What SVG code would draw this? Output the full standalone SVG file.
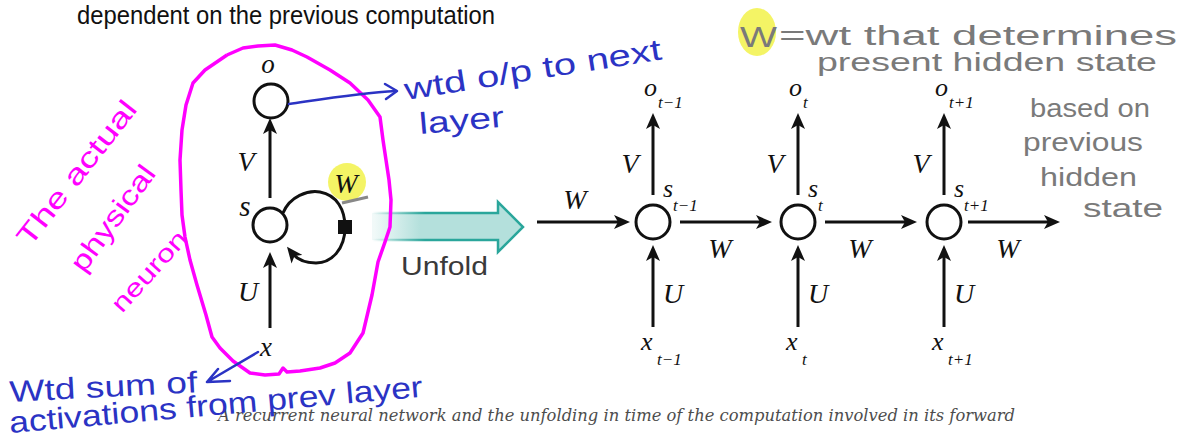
<svg xmlns="http://www.w3.org/2000/svg" width="1183" height="440" viewBox="0 0 1183 440">
<defs>
<style>
.node{fill:#fff;stroke:#111;stroke-width:3}
.edge{stroke:#111;stroke-width:3;fill:none}
.m{font-family:"Liberation Serif",serif;font-style:italic;fill:#111}
.big{font-size:28px}
.low{font-size:26px}
.sub{font-size:17px}
.hwm{font-family:"Liberation Sans",sans-serif;fill:#ff00ff}
.hwb{font-family:"Liberation Sans",sans-serif;fill:#2b33c4}
.hwg{font-family:"Liberation Sans",sans-serif;fill:#7a7a7a}
.blue{stroke:#2b33c4;stroke-width:2.5;fill:none;stroke-linecap:round;stroke-linejoin:round}
</style>
<marker id="ah" markerUnits="userSpaceOnUse" markerWidth="18" markerHeight="14" refX="8" refY="7" orient="auto">
<path d="M0,0 L16,7 L0,14 L4,7 Z" fill="#111"/>
</marker>
<linearGradient id="tealFill" gradientUnits="userSpaceOnUse" x1="372" y1="0" x2="420" y2="0">
<stop offset="0" stop-color="#b4e0dc" stop-opacity="0.15"/>
<stop offset="1" stop-color="#b4e0dc" stop-opacity="1"/>
</linearGradient>
<linearGradient id="tealStroke" gradientUnits="userSpaceOnUse" x1="372" y1="0" x2="425" y2="0">
<stop offset="0" stop-color="#2aa69b" stop-opacity="0"/>
<stop offset="1" stop-color="#2aa69b" stop-opacity="1"/>
</linearGradient>
</defs>
<rect width="1183" height="440" fill="#fff"/>

<text x="77" y="24" font-family="Liberation Sans, sans-serif" font-size="25" fill="#111" textLength="418" lengthAdjust="spacingAndGlyphs">dependent on the previous computation</text>

<!-- highlights -->
<ellipse cx="757" cy="32" rx="19" ry="24" fill="#f2f24a" opacity="0.85"/>
<circle cx="347" cy="182" r="19" fill="#f2f24a" opacity="0.85"/>

<!-- connectors -->
<g id="connectors">
<line class="edge" x1="270" y1="198" x2="270" y2="126" marker-end="url(#ah)"/>
<line class="edge" x1="270" y1="328" x2="270" y2="260" marker-end="url(#ah)"/>
<path class="edge" d="M283,213 C290,196 308,190 320,192 C337,195 345,210 345,227 C345,250 331,263 316,263 C304,263 296,258 292,253" marker-end="url(#ah)"/>
<line class="edge" x1="537" y1="222" x2="622" y2="222" marker-end="url(#ah)"/>
<line class="edge" x1="680" y1="222" x2="764" y2="222" marker-end="url(#ah)"/>
<line class="edge" x1="825" y1="222" x2="909" y2="222" marker-end="url(#ah)"/>
<line class="edge" x1="968" y1="222" x2="1052" y2="222" marker-end="url(#ah)"/>
<line class="edge" x1="653" y1="195" x2="653" y2="121" marker-end="url(#ah)"/>
<line class="edge" x1="798" y1="195" x2="798" y2="121" marker-end="url(#ah)"/>
<line class="edge" x1="944" y1="195" x2="944" y2="121" marker-end="url(#ah)"/>
<line class="edge" x1="653" y1="327" x2="653" y2="253" marker-end="url(#ah)"/>
<line class="edge" x1="798" y1="327" x2="798" y2="253" marker-end="url(#ah)"/>
<line class="edge" x1="944" y1="327" x2="944" y2="253" marker-end="url(#ah)"/>
</g>

<!-- folded neuron -->
<g id="node-o">
<circle class="node" cx="271" cy="101" r="17"/>
<text class="m" font-size="27" x="268" y="73" text-anchor="middle">o</text>
</g>
<g id="node-s">
<circle class="node" cx="270" cy="225" r="17"/>
<text class="m" font-size="29" x="245" y="216" text-anchor="middle">s</text>
<rect x="338" y="220" width="14" height="14" fill="#111"/>
</g>
<g id="node-x">
<text class="m" font-size="27" x="266" y="356" text-anchor="middle">x</text>
</g>
<g id="labels-folded">
<text class="m big" x="246" y="171" text-anchor="middle">V</text>
<text class="m big" x="248" y="301" text-anchor="middle">U</text>
<text class="m big" x="346" y="193" text-anchor="middle" fill="#5a5a2a">W</text>
<line x1="342" y1="203" x2="368" y2="197" stroke="#888" stroke-width="3"/>
</g>

<!-- Unfold arrow -->
<g id="unfold">
<polygon points="372,213 498,213 498,202 523,227 498,252 498,240 372,240" fill="url(#tealFill)" stroke="url(#tealStroke)" stroke-width="2.5" stroke-linejoin="miter"/>
<text x="401" y="275" font-family="Liberation Sans, sans-serif" font-size="26" fill="#3a3a3a" textLength="87" lengthAdjust="spacingAndGlyphs">Unfold</text>
</g>

<!-- unfolded nodes -->
<g id="node-s-t-1">
<circle class="node" cx="653" cy="222" r="17"/>
<text class="m low" x="663" y="197">s</text>
<text class="m sub" x="673" y="211">t−1</text>
</g>
<g id="node-s-t">
<circle class="node" cx="798" cy="222" r="17"/>
<text class="m low" x="808" y="197">s</text>
<text class="m sub" x="818" y="211">t</text>
</g>
<g id="node-s-t1">
<circle class="node" cx="944" cy="222" r="17"/>
<text class="m low" x="954" y="197">s</text>
<text class="m sub" x="964" y="211">t+1</text>
</g>
<g id="node-o-t-1">
<text class="m low" x="644" y="96">o</text>
<text class="m sub" x="658" y="108">t−1</text>
</g>
<g id="node-o-t">
<text class="m low" x="789" y="96">o</text>
<text class="m sub" x="803" y="108">t</text>
</g>
<g id="node-o-t1">
<text class="m low" x="935" y="96">o</text>
<text class="m sub" x="949" y="108">t+1</text>
</g>
<g id="node-x-t-1">
<text class="m low" x="641" y="350">x</text>
<text class="m sub" x="657" y="365">t−1</text>
</g>
<g id="node-x-t">
<text class="m low" x="786" y="350">x</text>
<text class="m sub" x="802" y="365">t</text>
</g>
<g id="node-x-t1">
<text class="m low" x="932" y="350">x</text>
<text class="m sub" x="948" y="365">t+1</text>
</g>
<g id="labels-unfolded">
<text class="m big" x="575" y="209" text-anchor="middle">W</text>
<text class="m big" x="720" y="258" text-anchor="middle">W</text>
<text class="m big" x="860" y="258" text-anchor="middle">W</text>
<text class="m big" x="1008" y="258" text-anchor="middle">W</text>
<text class="m big" x="630" y="173" text-anchor="middle">V</text>
<text class="m big" x="775" y="173" text-anchor="middle">V</text>
<text class="m big" x="921" y="173" text-anchor="middle">V</text>
<text class="m big" x="673" y="303" text-anchor="middle">U</text>
<text class="m big" x="818" y="303" text-anchor="middle">U</text>
<text class="m big" x="964" y="303" text-anchor="middle">U</text>
</g>

<!-- caption -->
<text x="218" y="421" font-family="DejaVu Serif, serif" font-style="italic" font-size="16" fill="#4d4d4d" textLength="797" lengthAdjust="spacingAndGlyphs">A recurrent neural network and the unfolding in time of the computation involved in its forward</text>

<!-- magenta annotation -->
<polyline points="227,55 243,48 258,46 275,45 292,50 307,57 330,70 350,83 368,100 380,117 383,140 386,160 389,180 391,200 390,227 385,242 378,262 372,295 363,333 350,353 335,363 320,368 300,371 287,372 283,368 279,374 265,375 250,373 233,361 220,348 212,337 206,315 197,285 190,260 185,237 182,215 181,190 180,160 182,130 186,105 193,83 205,70 227,55" fill="none" stroke="#ff00ff" stroke-width="3.5" stroke-linejoin="round"/>
<text class="hwm" font-size="28" transform="translate(30,248) rotate(-52)" textLength="176" lengthAdjust="spacingAndGlyphs">The actual</text>
<text class="hwm" font-size="28" transform="translate(84,274) rotate(-54)" textLength="124" lengthAdjust="spacingAndGlyphs">physical</text>
<text class="hwm" font-size="25" transform="translate(122,314) rotate(-48)" textLength="100" lengthAdjust="spacingAndGlyphs">neuron</text>

<!-- blue annotations -->
<path class="blue" d="M289,104 C330,98 360,93 396,91"/>
<path class="blue" d="M385,84 L397,91 L386,99"/>
<text class="hwb" font-size="30" transform="translate(406,100) rotate(-9)" textLength="260" lengthAdjust="spacingAndGlyphs">wtd o/p to next</text>
<text class="hwb" font-size="30" transform="translate(420,134) rotate(-5)" textLength="85" lengthAdjust="spacingAndGlyphs">layer</text>
<path class="blue" d="M258,352 L207,382 M207,382 L230,381 M207,382 L218,369"/>
<text class="hwb" font-size="30" transform="translate(10,402) rotate(-3)" textLength="188" lengthAdjust="spacingAndGlyphs">Wtd sum of</text>
<text class="hwb" font-size="30" transform="translate(10,433) rotate(-5)" textLength="415" lengthAdjust="spacingAndGlyphs">activations from prev layer</text>

<!-- gray annotations -->
<text class="hwg" font-size="30" x="740" y="47" fill="#6a6a3a" textLength="37" lengthAdjust="spacingAndGlyphs">W</text>
<text class="hwg" font-size="27" x="779" y="45" textLength="398" lengthAdjust="spacingAndGlyphs">=wt  that  determines</text>
<text class="hwg" font-size="25" x="817" y="71" textLength="340" lengthAdjust="spacingAndGlyphs">present  hidden  state</text>
<text class="hwg" font-size="26" x="1030" y="117" textLength="120" lengthAdjust="spacingAndGlyphs">based on</text>
<text class="hwg" font-size="26" x="1023" y="151" textLength="120" lengthAdjust="spacingAndGlyphs">previous</text>
<text class="hwg" font-size="26" x="1040" y="186" textLength="97" lengthAdjust="spacingAndGlyphs">hidden</text>
<text class="hwg" font-size="26" x="1083" y="217" textLength="80" lengthAdjust="spacingAndGlyphs">state</text>
</svg>
